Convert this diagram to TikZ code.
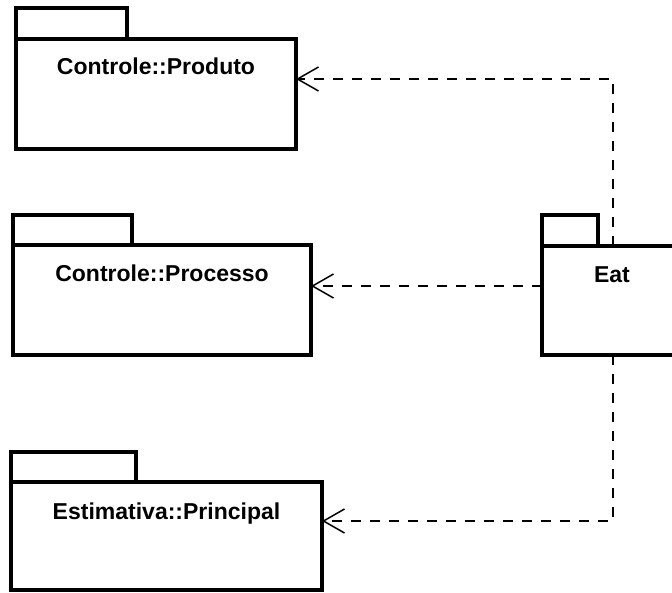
\documentclass[tikz,border=0pt]{standalone}
\usepackage{fontspec}
\setmainfont{Liberation Sans}
\usetikzlibrary{arrows.meta,calc}

\tikzset{
  pkgbody/.style={draw, line width=3.5pt, minimum width=#1, anchor=north west,
                  inner sep=0pt, outer sep=0pt, fill=white},
  pkgtab/.style={draw, line width=3.5pt, anchor=south west, inner sep=0pt,
                 outer sep=0pt, fill=white},
  pkgname/.style={anchor=base, font=\bfseries\fontsize{23}{26}\selectfont, inner sep=0pt},
  dep/.style={line width=1.6pt, dash pattern=on 10pt off 9pt,
              -{Straight Barb[length=21pt, width=24pt, line width=1.5pt]}}
}

\begin{document}
\begin{tikzpicture}[x=1pt, y=-1pt]
  \useasboundingbox (0,0) rectangle (672,592);

  % Controle::Produto
  \node[pkgtab, minimum width=111pt, minimum height=31pt] (prodtab) at (16,39) {};
  \node[pkgbody=280pt, minimum height=110pt] (prod) at (16,39) {};
  \node[pkgname] (prodname) at ($(prod.north)+(0,35)$) {Controle::Produto};

  % Controle::Processo
  \node[pkgtab, minimum width=119pt, minimum height=30pt] (proctab) at (13,245) {};
  \node[pkgbody=298pt, minimum height=110pt] (proc) at (13,245) {};
  \node[pkgname] (procname) at ($(proc.north)+(0,36)$) {Controle::Processo};

  % Estimativa::Principal
  \node[pkgtab, minimum width=125pt, minimum height=30pt] (printab) at (11,482) {};
  \node[pkgbody=311pt, minimum height=108pt] (prin) at (11,482) {};
  \node[pkgname] (prinname) at ($(prin.north)+(0,37)$) {Estimativa::Principal};

  % Eat
  \node[pkgtab, minimum width=56pt, minimum height=31pt] (eattab) at (542,246) {};
  \node[pkgbody=150pt, minimum height=109pt] (eat) at (542,246) {};
  \node[pkgname] (eatname) at (612,282) {Eat};

  % bend points of the dependencies
  \coordinate (upbend) at (613,79);
  \coordinate (midlevel) at (542,286);
  \coordinate (lowbend) at (613,521);

  \draw[dep] (upbend |- eat.north) -- (upbend) -- (upbend -| prod.east);
  \draw[dep] (midlevel -| eat.west) -- (midlevel -| proc.east);
  \draw[dep] (lowbend |- eat.south) -- (lowbend) -- (lowbend -| prin.east);
\end{tikzpicture}
\end{document}
